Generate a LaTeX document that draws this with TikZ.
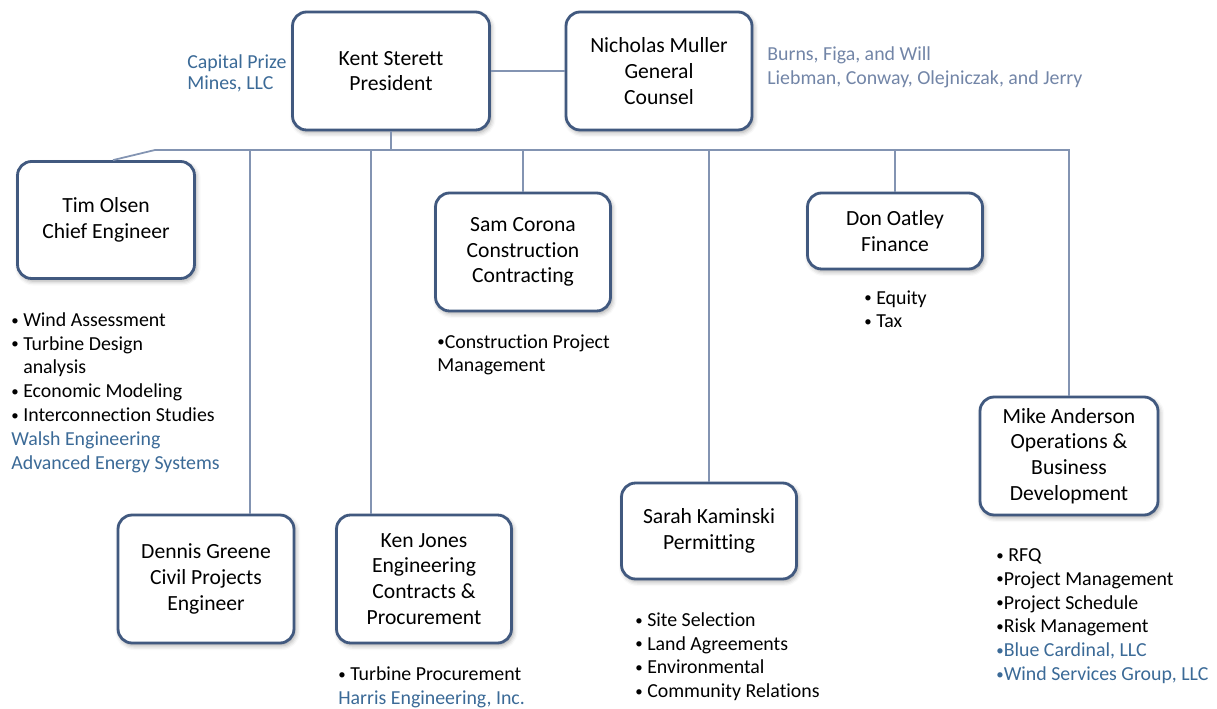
\documentclass[tikz,border=0pt]{standalone}
\usepackage{fontspec}
\setmainfont{Carlito}[Ligatures=NoCommon]
\usetikzlibrary{shadows.blur}
\definecolor{boxline}{HTML}{41597F}
\definecolor{linkline}{HTML}{8394B2}
\definecolor{firmblue}{HTML}{3B6A97}
\definecolor{lawblue}{HTML}{7285A7}
\newcommand\blt{\raisebox{0.12ex}{\scalebox{0.75}{•}}}
\tikzset{
  person/.style={draw=boxline, line width=1.6pt, rounded corners=0.28cm,
    fill=white, align=center, inner sep=0pt,
    font=\fontsize{12.3}{14.7}\selectfont,
    blur shadow={shadow xshift=1pt, shadow yshift=-1.5pt,
      shadow blur radius=2.5pt, shadow opacity=35}},
  link/.style={draw=linkline, line width=1pt},
  duties/.style={align=left, anchor=north west, inner sep=0pt,
    font=\fontsize{11.3}{13.6}\selectfont},
}
\begin{document}
\begin{tikzpicture}[x=0.02cm,y=-0.02cm]
    \useasboundingbox (0,0) rectangle (1217,709);
    \node[person,minimum width=3.94cm,minimum height=2.36cm] (Kent) at (391,71)
        {Kent Sterett\\President};
    \node[person,minimum width=3.72cm,minimum height=2.36cm] (Nicholas) at (659,71)
        {Nicholas Muller\\General\\Counsel};
    \node[person,minimum width=3.54cm,minimum height=2.34cm] (Tim) at (106,220)
        {Tim Olsen\\Chief Engineer};
    \node[person,minimum width=3.5cm,minimum height=2.36cm] (Sam) at (523,252)
        {Sam Corona\\Construction\\Contracting};
    \node[person,minimum width=3.5cm,minimum height=1.52cm] (Don) at (895,231)
        {Don Oatley\\Finance};
    \node[person,minimum width=3.56cm,minimum height=2.36cm] (Mike) at (1069,456)
        {Mike Anderson\\Operations \&\\Business\\Development};
    \node[person,minimum width=3.5cm,minimum height=1.92cm] (Sarah) at (709,531)
        {Sarah Kaminski\\Permitting};
    \node[person,minimum width=3.52cm,minimum height=2.56cm] (Dennis) at (206,579)
        {Dennis Greene\\Civil Projects\\Engineer};
    \node[person,minimum width=3.5cm,minimum height=2.56cm] (Ken) at (424,579)
        {Ken Jones\\Engineering\\Contracts \&\\Procurement};

    \coordinate (busL) at (155,150);
    \coordinate (busR) at (1070,150);
    \draw[link] (Kent.east) -- (Nicholas.west);
    \draw[link] (Kent.south) -- (Kent.south |- busL);
    \draw[link] (busL) -- (busR);
    \draw[link] (busL) -- ([xshift=0.14cm]Tim.north);
    \draw[link] ([xshift=0.88cm]Dennis.north |- busL) -- ([xshift=0.88cm]Dennis.north);
    \draw[link] ([xshift=-1.06cm]Ken.north |- busL) -- ([xshift=-1.06cm]Ken.north);
    \foreach \who in {Sam,Sarah,Don,Mike}
        \draw[link] (\who.north |- busL) -- (\who.north);

    \node[duties,font=\fontsize{11.3}{11.9}\selectfont,text=firmblue] (capital) at (187,54)
        {Capital Prize\\Mines, LLC};
    \node[duties,text=lawblue] (counsel) at (767,46)
        {Burns, Figa, and Will\\Liebman, Conway, Olejniczak, and Jerry};
    \node[duties] (timlist) at (11,312)
        {\blt{} Wind Assessment\\\blt{} Turbine Design\\\hphantom{\blt{} }analysis\\\blt{} Economic Modeling\\
         \blt{} Interconnection Studies\\\textcolor{firmblue}{Walsh Engineering}\\
         \textcolor{firmblue}{Advanced Energy Systems}};
    \node[duties] (samlist) at (437,334)
        {\blt Construction Project\\Management};
    \node[duties] (donlist) at (864,290)
        {\blt{} Equity\\\blt{} Tax};
    \node[duties] (sarahlist) at (635,612)
        {\blt{} Site Selection\\\blt{} Land Agreements\\\blt{} Environmental\\\blt{} Community Relations};
    \node[duties] (kenlist) at (338,666)
        {\blt{} Turbine Procurement\\\textcolor{firmblue}{Harris Engineering, Inc.}};
    \node[duties] (mikelist) at (996,548)
        {\blt{} RFQ\\\blt Project Management\\\blt Project Schedule\\\blt Risk Management\\
         \textcolor{firmblue}{\blt Blue Cardinal, LLC}\\\textcolor{firmblue}{\blt Wind Services Group, LLC}};
\end{tikzpicture}
\end{document}
